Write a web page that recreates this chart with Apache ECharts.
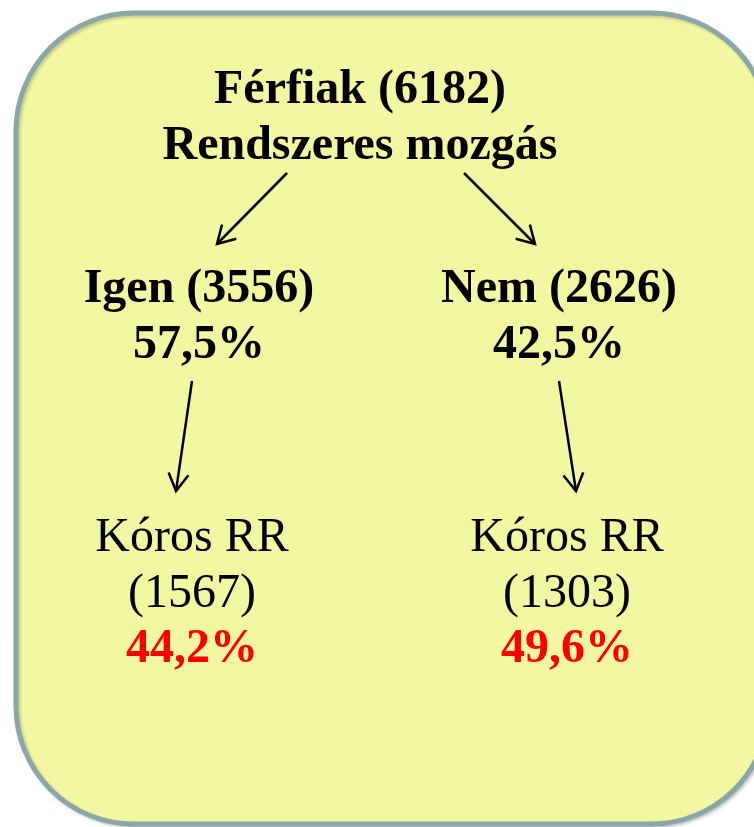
<!DOCTYPE html>
<html>
<head>
<meta charset="utf-8">
<script src="https://cdn.jsdelivr.net/npm/echarts@6/dist/echarts.min.js"></script>
<style>
  html, body { margin: 0; padding: 0; background: #fff; }
  #main { width: 754px; height: 827px; }
</style>
</head>
<body>
<div id="main"></div>
<script>
// adatok
var rootName = 'Férfiak'
var rootCount = 6182
var rootQuestion = 'Rendszeres mozgás'
var branchNames = ['Igen', 'Nem']
var branchCounts = [3556, 2626]
var branchShares = ['57,5%', '42,5%']
var outcomeName = 'Kóros RR'
var outcomeCounts = [1567, 1303]
var outcomeShares = ['44,2%', '49,6%']

// elrendezés (a rejtett tengelyeken, 1 egység = 1 px)
var rootPos = [360, 91]
var branchPos = [[199, 290], [559, 290]]
var outcomePos = [[192, 538], [567, 538]]
var arrowPos = [
  [287, 173, 217, 244],
  [464, 173, 535, 244],
  [192, 381, 176, 491],
  [559, 381, 576, 491]
]
var lineStep = 56

var FONT = '"Liberation Serif", "Times New Roman", serif'

// a csomópontok szövegsorai
var nodes = []
nodes.push({ pos: rootPos, lines: [
  { text: rootName + ' (' + rootCount + ')', bold: true, color: '#000' },
  { text: rootQuestion, bold: true, color: '#000' }
] })
branchNames.forEach(function (name, i) {
  nodes.push({ pos: branchPos[i], lines: [
    { text: name + ' (' + branchCounts[i] + ')', bold: true, color: '#000' },
    { text: branchShares[i], bold: true, color: '#000' }
  ] })
})
outcomeCounts.forEach(function (cnt, i) {
  nodes.push({ pos: outcomePos[i], lines: [
    { text: outcomeName, bold: false, color: '#000' },
    { text: '(' + cnt + ')', bold: false, color: '#000' },
    { text: outcomeShares[i], bold: true, color: '#FF0000' }
  ] })
})

var myChart = echarts.init(document.getElementById('main'), null, { renderer: 'canvas' })

var option = {
  animation: false,
  backgroundColor: '#fff',
  grid: { left: 0, right: 0, top: 0, bottom: 0 },
  xAxis: { type: 'value', min: 0, max: 754, show: false },
  yAxis: { type: 'value', min: 0, max: 827, inverse: true, show: false },
  graphic: [
    {
      type: 'rect',
      z: -10,
      shape: { x: 16, y: 13, width: 753, height: 811, r: 118 },
      style: {
        fill: '#F2F8A2',
        stroke: '#8BA6A8',
        lineWidth: 5,
        shadowColor: 'rgba(0,0,0,0.18)',
        shadowBlur: 3,
        shadowOffsetX: 2,
        shadowOffsetY: 2
      }
    }
  ],
  series: [
    {
      // nyilak
      type: 'custom',
      coordinateSystem: 'cartesian2d',
      data: arrowPos,
      silent: true,
      renderItem: function (params, api) {
        var a = api.coord([api.value(0), api.value(1)])
        var b = api.coord([api.value(2), api.value(3)])
        var dx = a[0] - b[0], dy = a[1] - b[1]
        var len = Math.sqrt(dx * dx + dy * dy)
        var ux = dx / len, uy = dy / len
        var head = 20, ang = 30 * Math.PI / 180
        var c = Math.cos(ang), s = Math.sin(ang)
        var p1 = [b[0] + head * (ux * c - uy * s), b[1] + head * (ux * s + uy * c)]
        var p2 = [b[0] + head * (ux * c + uy * s), b[1] + head * (-ux * s + uy * c)]
        var st = { stroke: '#000', lineWidth: 2.5, fill: null, lineJoin: 'miter' }
        return {
          type: 'group',
          children: [
            { type: 'line', shape: { x1: a[0], y1: a[1], x2: b[0], y2: b[1] }, style: st },
            { type: 'polyline', shape: { points: [p1, b, p2] }, style: st }
          ]
        }
      }
    },
    {
      // szövegek
      type: 'custom',
      coordinateSystem: 'cartesian2d',
      data: nodes.map(function (n, i) { return [n.pos[0], n.pos[1], i] }),
      silent: true,
      renderItem: function (params, api) {
        var node = nodes[api.value(2)]
        var children = node.lines.map(function (l, k) {
          var p = api.coord([api.value(0), api.value(1) + k * lineStep])
          return {
            type: 'text',
            x: p[0],
            y: p[1],
            style: {
              text: l.text,
              fill: l.color,
              font: (l.bold ? 'bold ' : '') + '48px ' + FONT,
              align: 'center',
              verticalAlign: 'middle'
            }
          }
        })
        return { type: 'group', children: children }
      }
    }
  ]
}

option && myChart.setOption(option)
</script>
</body>
</html>
